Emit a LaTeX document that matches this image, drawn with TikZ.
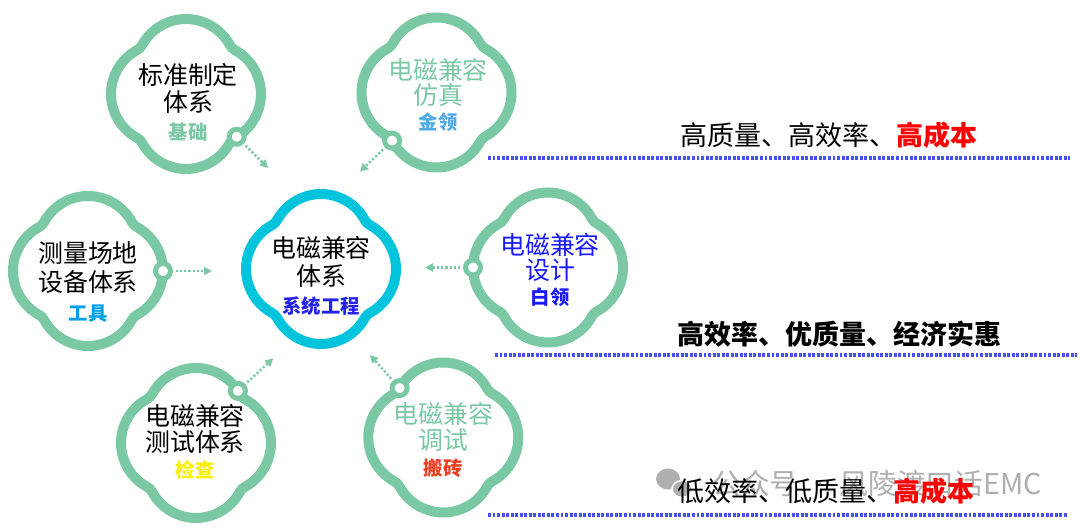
\documentclass[tikz,border=0pt]{standalone}
\usepackage{fontspec}
\setmainfont{Noto Sans CJK SC}
\usetikzlibrary{arrows.meta}
\definecolor{flowgreen}{RGB}{122,200,164}
\definecolor{flowcyan}{RGB}{0,196,220}
\definecolor{dotblue}{RGB}{70,80,245}
\definecolor{goldblue}{RGB}{80,170,230}
\definecolor{toolblue}{RGB}{0,160,233}
\definecolor{sysblue}{RGB}{35,35,235}
\definecolor{designblue}{RGB}{25,25,255}
\definecolor{checkyellow}{RGB}{250,240,0}
\definecolor{brickred}{RGB}{235,65,35}
\definecolor{costred}{RGB}{255,0,0}
\definecolor{wmgray}{RGB}{175,175,175}
\newcommand\subfnt{\fontsize{14.5pt}{14.5pt}\selectfont\bfseries}
\tikzset{
  flower/.pic={
    \draw[line width=7.5pt, draw=#1]
      (48.79,-43.98) arc[start angle=-61.56,end angle=61.56,radius=50]
      arc[start angle=241.56,end angle=208.44,radius=12]
      arc[start angle=28.44,end angle=151.56,radius=50]
      arc[start angle=331.56,end angle=298.44,radius=12]
      arc[start angle=118.44,end angle=241.56,radius=50]
      arc[start angle=61.56,end angle=28.44,radius=12]
      arc[start angle=208.44,end angle=331.56,radius=50]
      arc[start angle=151.56,end angle=118.44,radius=12]
      -- cycle;
  },
  port/.style={circle, draw=flowgreen, fill=white, line width=3.75pt,
    minimum size=11.25pt, inner sep=0pt},
  conn/.style={draw=flowgreen, line width=1.9pt, dash pattern=on 1.6pt off 1.6pt,
    -{Triangle[length=6pt,width=6pt]}, shorten <=2pt},
  ttl/.style={align=center, inner sep=0pt, font=\fontsize{18.7pt}{#1}\selectfont},
  rt/.style={inner sep=0pt, font=\fontsize{20.25pt}{24pt}\selectfont},
  dotline/.style={draw=dotblue, line width=2.5pt, dash pattern=on 2.2pt off 1.2pt}
}
\begin{document}
\begin{tikzpicture}[x=0.75pt,y=-0.75pt]
\fill[white] (0,0) rectangle (1080,529);
\useasboundingbox (0,0) rectangle (1080,529);

% flowers
\pic (f1) at (186,94) {flower=flowgreen};
\pic (f2) at (436.5,92.5) {flower=flowgreen};
\pic (f3) at (88,271) {flower=flowgreen};
\pic (f4) at (321,269) {flower=flowcyan};
\pic (f5) at (548,267.5) {flower=flowgreen};
\pic (f6) at (196,443) {flower=flowgreen};
\pic (f7) at (443.3,437.5) {flower=flowgreen};

% texts
\node[ttl=20.6pt] (n1) at (188,102) {标准制定\\体系\\{\subfnt\color{flowgreen}基础}};
\node[ttl=18.75pt, text=flowgreen] (n2) at (438,95) {电磁兼容\\仿真\\{\subfnt\color{goldblue}金领}};
\node[ttl=21.5pt] (n3) at (88,282) {测量场地\\设备体系\\{\subfnt\color{toolblue}工具}};
\node[ttl=21pt] (n4) at (321,276) {电磁兼容\\体系\\{\subfnt\color{sysblue}系统工程}};
\node[ttl=18.75pt, text=designblue] (n5) at (550,270) {电磁兼容\\设计\\{\subfnt 白领}};
\node[ttl=19.5pt] (n6) at (195,441.5) {电磁兼容\\测试体系\\{\subfnt\color{checkyellow}检查}};
\node[ttl=19.5pt, text=flowgreen] (n7) at (443.3,440.5) {电磁兼容\\调试\\{\subfnt\color{brickred}搬砖}};

% ports
\node[port] (p1) at (236.7,136.7) {};
\node[port] (p2) at (392.1,140.6) {};
\node[port] (p3) at (163,271) {};
\node[port] (p5) at (473,267.5) {};
\node[port] (p6) at (237.9,390.8) {};
\node[port] (p7) at (399.6,388.1) {};

\coordinate (a1) at (268,168);
\coordinate (a2) at (360,171.7);
\coordinate (a3) at (212,271);
\coordinate (a5) at (425,267.5);
\coordinate (a6) at (273.3,358.3);
\coordinate (a7) at (370,355);

\draw[conn] (p1) -- (a1);
\draw[conn] (p2) -- (a2);
\draw[conn] (p3) -- (a3);
\draw[conn] (p5) -- (a5);
\draw[conn] (p6) -- (a6);
\draw[conn] (p7) -- (a7);

% dotted lines
\coordinate (l1a) at (488,158);
\coordinate (l1b) at (1070,158);
\coordinate (l2a) at (495,355);
\coordinate (l2b) at (1077,355);
\coordinate (l3a) at (488,515);
\coordinate (l3b) at (1068,515);
\draw[dotline] (l1a) -- (l1b);
\draw[dotline] (l2a) -- (l2b);
\draw[dotline] (l3a) -- (l3b);

% watermark
\fill[wmgray] (668,479) ellipse[x radius=12,y radius=10.5];
\draw[white, fill=wmgray, line width=1.2pt] (682,489) ellipse[x radius=10,y radius=8.5];
\node[inner sep=0pt, text=wmgray, font=\fontsize{21.5pt}{24pt}\selectfont] (wm) at (877,484) {公众号 · 风陵渡口话EMC};

% right texts
\node[rt] (t1) at (829,135) {高质量、高效率、{\bfseries\color{costred}高成本}};
\node[rt, font=\fontsize{20.25pt}{24pt}\selectfont\bfseries] (t2) at (839.5,334) {高效率、优质量、经济实惠};
\node[rt] (t3) at (825.5,491.7) {低效率、低质量、{\bfseries\color{costred}高成本}};
\end{tikzpicture}
\end{document}
